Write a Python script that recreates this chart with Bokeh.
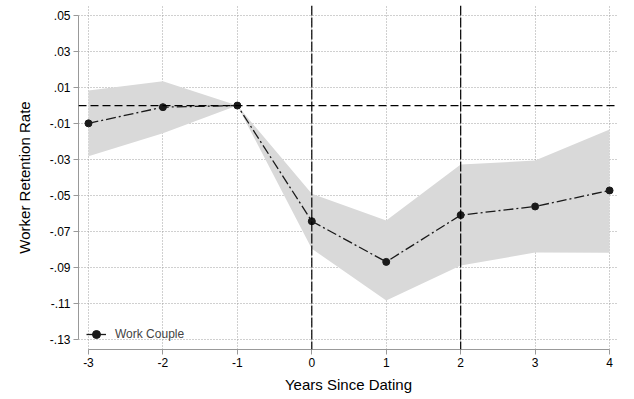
from bokeh.plotting import figure
from bokeh.models import Span, Range1d, FixedTicker, ColumnDataSource, Legend, LegendItem
from bokeh.embed import file_html
from bokeh.resources import INLINE

# data
years = [-3, -2, -1, 0, 1, 2, 3, 4]
estimate = [-0.0099, -0.0009, 0.0, -0.0643, -0.0869, -0.0609, -0.0561, -0.0472]
ci_upper = [0.0083, 0.0135, 0.0, -0.0491, -0.0639, -0.0328, -0.0306, -0.0133]
ci_lower = [-0.0282, -0.0154, 0.0, -0.0796, -0.1083, -0.0889, -0.0817, -0.0818]
y_ticks = [0.05, 0.03, 0.01, -0.01, -0.03, -0.05, -0.07, -0.09, -0.11, -0.13]
y_tick_labels = [".05", ".03", ".01", "-.01", "-.03", "-.05", "-.07", "-.09", "-.11", "-.13"]
x_ticks = [-3, -2, -1, 0, 1, 2, 3, 4]
event_lines = [0, 2]

FONT = "Liberation Sans"

p = figure(width=626, height=395, output_backend="svg", toolbar_location=None,
           x_range=Range1d(-3.134, 4.12), y_range=Range1d(-0.1356, 0.0556),
           min_border_left=78, min_border_right=8, min_border_top=5, min_border_bottom=46)
p.outline_line_color = None
p.background_fill_color = "white"

src = ColumnDataSource(dict(x=years, y=estimate, lo=ci_lower, hi=ci_upper))
p.varea(x="x", y1="lo", y2="hi", source=src, fill_color="#d9d9d9", fill_alpha=1.0)

# grid
p.xgrid.ticker = FixedTicker(ticks=x_ticks)
p.ygrid.ticker = FixedTicker(ticks=y_ticks)
for g in (p.xgrid, p.ygrid):
    g.grid_line_color = "#a0a0a0"
    g.grid_line_dash = "1 2"
    g.grid_line_width = 1

# reference lines
p.add_layout(Span(location=0, dimension="width", line_color="black",
                  line_dash="8 4", line_width=1.2))
for ev in event_lines:
    p.add_layout(Span(location=ev, dimension="height", line_color="black",
                      line_dash="10 2", line_width=1.2))

ln = p.line("x", "y", source=src, line_color="#1a1a1a", line_width=1.3,
            line_dash="10 3 2 3")
sc = p.scatter("x", "y", source=src, size=7, color="#1a1a1a")
legend_line = p.line(x=[float("nan")], y=[float("nan")], line_color="#1a1a1a", line_width=1.3)

legend = Legend(items=[LegendItem(label="Work Couple", renderers=[legend_line, sc])],
                location=(8, 5), border_line_color=None, background_fill_alpha=0,
                padding=0, margin=0, glyph_width=20, label_standoff=9,
                label_text_font=FONT, label_text_font_size="12px")
p.add_layout(legend, "center")

# axes
p.xaxis.ticker = FixedTicker(ticks=x_ticks)
p.yaxis.ticker = FixedTicker(ticks=y_ticks)
p.yaxis.major_label_overrides = {t: l for t, l in zip(y_ticks, y_tick_labels)}
p.xaxis.major_label_overrides = {t: str(t) for t in x_ticks}
p.xaxis.bounds = (x_ticks[0], x_ticks[-1])
p.yaxis.bounds = (min(y_ticks), max(y_ticks))
for ax in (p.xaxis, p.yaxis):
    ax.axis_line_color = "#999999"
    ax.major_tick_line_color = "#999999"
    ax.major_tick_out = 5
    ax.major_tick_in = 0
    ax.minor_tick_line_color = None
    ax.major_label_text_font = FONT
    ax.major_label_text_font_size = "12px"
    ax.major_label_text_color = "black"
    ax.axis_label_text_font = FONT
    ax.axis_label_text_font_size = "15px"
    ax.axis_label_text_font_style = "normal"
    ax.axis_label_text_color = "black"
    ax.major_label_standoff = 3
p.xaxis.axis_label = "Years Since Dating"
p.yaxis.axis_label = "Worker Retention Rate"
p.yaxis.axis_label_standoff = 14
p.xaxis.axis_label_standoff = 6

open("out.html", "w").write(file_html(p, INLINE))
